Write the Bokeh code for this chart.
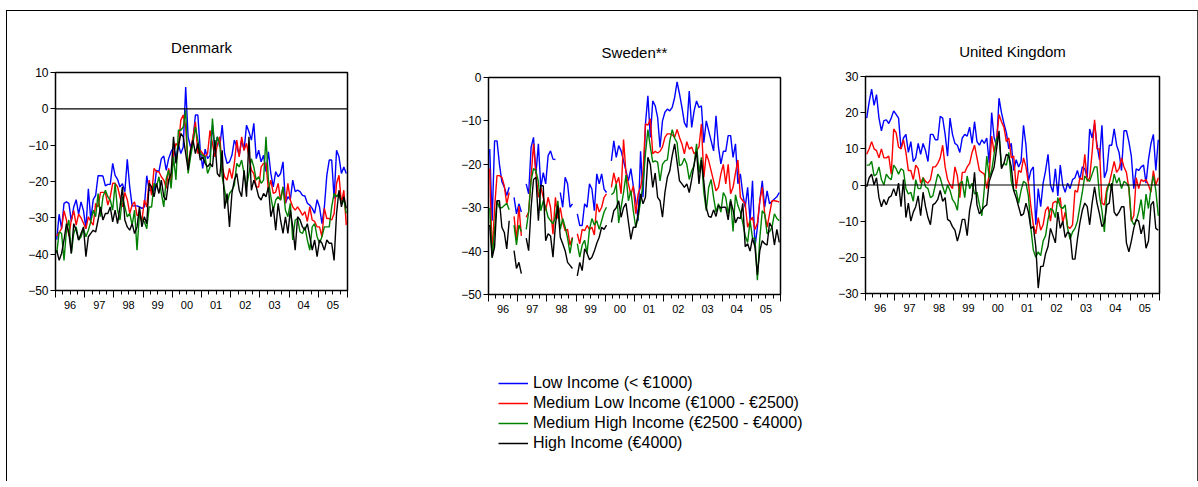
import numpy as np
from bokeh.plotting import figure
from bokeh.models import (Range1d, LinearAxis, FixedTicker, Span, Legend, LegendItem,
                          CustomLabelingPolicy, Spacer)
from bokeh.layouts import row, column
from bokeh.embed import file_html
from bokeh.resources import INLINE

# ---------------- data ----------------
start_year = 1996
n_years = 10
year_labels = ["96", "97", "98", "99", "00", "01", "02", "03", "04", "05"]

series_names = ["Low Income (< €1000)",
                "Medium Low Income (€1000 - €2500)",
                "Medium High Income (€2500 - €4000)",
                "High Income (€4000)"]
series_colors = ["#0000FF", "#FF0000", "#008000", "#000000"]

panel_titles = ["Denmark", "Sweden**", "United Kingdom"]

dk_low = [
    -36, -29, -33, -26, -25.6, -26, -31, -27, -25, -29, -25.6, -28,
    -33, -22, -30.6, -25, -23.8, -18.4, -18.4, -18.5, -21.2, -20.8, -20.8, -15,
    -18.3, -19.4, -21.5, -20.6, -22.8, -13.9, -21.5, -26.7, -26.7, -26.7, -27, -27.4,
    -27, -18.4, -22.4, -22.6, -22.6, -16.9, -17.3, -13.7, -13, -16.9, -13.7, -11.8,
    -10.5, -13.7, -9.7, -12.3, -10.5, 6, -7.7, -10.5, -8.6, -1.7, -1.7, -11.4,
    -16.4, -11.1, -13.7, -12.8, -4.5, -11.4, -7.7, -10.5, -4.5, -12.3, -15, -14.6,
    -12.8, -8.6, -10.5, -12.8, -8.6, -11.4, -4.5, -6.3, -8.6, -4, -13.7, -11.4,
    -14.6, -12.8, -17.3, -11.8, -17.8, -21.5, -17.3, -18.7, -17.8, -14.6, -26, -24.2,
    -25, -19.6, -22.8, -22.4, -22.8, -23.8, -24, -26, -26.5, -27.4, -28.8, -25,
    -27, -31.6, -27, -18.3, -14.1, -14.1, -24.7, -11.4, -13.2, -17.8, -16, -17.8,
]
dk_mlow = [
    -35, -34, -33, -28, -30.6, -35, -30.6, -28, -32, -29, -30, -31.5,
    -33, -29.7, -31, -32, -26, -27, -23, -23, -23, -26.5, -24.2, -20.5,
    -20.5, -21.5, -24.2, -27, -23, -25, -28.8, -26.5, -25.6, -29.3, -29.3, -31,
    -25.1, -27, -19.6, -23.8, -16.4, -17.3, -17.3, -18.7, -19.6, -21.9, -16.4, -20.5,
    -12.3, -9.5, -10.5, -3.1, -1.7, -5, -16, -11.4, -7.7, -3.6, -12.3, -11.4,
    -12.3, -13.2, -12.3, -5.9, -9.5, -13.2, -10, -7.7, -16, -18.7, -19.6, -16.4,
    -19.2, -15, -8.6, -13.2, -7.7, -11.4, -9.5, -13.2, -16.9, -17.8, -21.5, -21.5,
    -16, -15, -15, -22.4, -19.6, -23.3, -22.9, -20.5, -25.1, -21.5, -26, -20.5,
    -25.1, -27, -27.9, -27, -28, -29.3, -28.3, -31, -27, -30.6, -31, -32.5,
    -32.5, -35.2, -27.4, -30.2, -30.2, -30.6, -28.8, -20.5, -18.3, -26, -22.4, -32,
]
dk_mhigh = [
    -39.8, -33.9, -34.3, -41.7, -33.4, -30.6, -39.8, -34.3, -32.5, -36.1, -35.2, -33,
    -35.2, -33.4, -31.1, -27.9, -29.7, -23.3, -29.7, -24.2, -22.4, -24.2, -25.1, -27.9,
    -20.5, -27.9, -30.6, -24.2, -27, -29.7, -28.8, -32, -27.9, -38.9, -28.8, -30.6,
    -31.1, -33, -27, -27, -20.5, -21.5, -18.7, -23.3, -27, -19.2, -16.9, -21.9,
    -13.2, -19.6, -5.9, -5.9, -5, -0.4, -17.8, -13.2, -9.5, -5, -8.6, -12.3,
    -12.8, -13.2, -17.8, -16, -2.7, -11.4, -7.7, -9.5, -18.7, -22.4, -26, -23.3,
    -22.4, -21, -15, -16, -14.1, -17.8, -21.5, -17.8, -13.7, -16, -19.6, -18.7,
    -20.5, -19.6, -7.7, -19.6, -24.2, -27.9, -25.1, -24.2, -25.1, -21.5, -27.9, -29.7,
    -26, -36.1, -30.6, -30.2, -33.9, -34.3, -32.5, -36.1, -38.9, -32.5, -31.6, -35.2,
    -37, -35.2, -32.5, -32.5, -32.5, -27, -23.3, -24.2, -23.3, -26, -25.1, -28.8,
]
dk_high = [
    -38.9, -41.7, -39.8, -36.1, -31.6, -34.3, -39.8, -31.6, -33.4, -36.1, -34.3, -32.5,
    -40.7, -35.2, -34.3, -33.4, -33.9, -30.6, -27, -30.6, -28.8, -28.8, -27, -31.1,
    -27.9, -31.6, -27, -21.5, -30.6, -32.5, -33.4, -31.6, -34.3, -32.5, -27, -32.5,
    -29.7, -31.6, -20.5, -21.5, -24.2, -20.5, -23.3, -19.6, -24.2, -25.1, -19.6, -17.8,
    -7.7, -15, -10.5, -6.8, -7.7, -12.3, -16.9, -11.4, -8.6, -12.3, -9.5, -14.1,
    -13.2, -15, -16, -15, -16, -8.6, -17.8, -18.7, -11.4, -27.5, -23.3, -32.5,
    -23.3, -19.6, -17.8, -22.4, -24.2, -16.9, -24.2, -7.7, -22.4, -19.6, -21.5, -24.2,
    -25.1, -23.3, -24.2, -21.5, -29.7, -27, -33.4, -26, -30.6, -34.3, -29.7, -34.3,
    -27.9, -32.5, -38.9, -29.7, -30.6, -32.5, -33.4, -31.6, -35.2, -38.9, -36.1, -40.7,
    -36.1, -37, -38.9, -36.1, -37, -37, -41.7, -28.8, -22.4, -27, -24.2, -27.4,
]

se_low = [
    -16.5, -33, -14.6, -14.6, -20, -24, -25.3, -27.2, -25.3, None, -27.6, -31.4,
    -29.1, -31, None, -24.5, -26.8, -16.1, -13.8, -22.2, -15.3, -25.3, -21.9, -24.5,
    -18, -16.9, -18.8, -18.9, None, -26.5, -29.9, -23, -24.5, -29.9, -29.1, None,
    -31.4, -34.1, -34.1, -29.1, -29.9, -24.5, -25.7, -30.7, -22.2, -24.5, -22.2, -25.7,
    -26.5, None, -19.2, -14.6, -18.4, -15.7, -16.9, -19.2, -21.5, -23.8, -21, -25,
    -28.4, -33, -17, -27.6, -10.7, -4.2, -13.8, -5.4, -6.5, -9.2, -16.1, -10,
    -8, -7.3, -7.7, -6.9, -4.6, -1, -3.8, -6.9, -10.4, -11.5, -3.1, -11.5,
    -7.7, -5.4, -6.9, -6.5, -15, -10, -12.3, -14.6, -16.9, -8.8, -16, -19.9,
    -17, -17, -13.4, -13.4, -18.4, -15.3, -24.5, -22.2, -26.8, -29.9, -25.3, -33,
    -23.8, -39.1, -34.5, -28.4, -23.8, -29.9, -26.1, -29.1, -28.5, -28, -27.5, -26.5,
]
se_mlow = [
    -21, -41, -30, -22.6, -22.6, -23, -25, -29.1, -26.5, None, -32, -37.5,
    -29.6, -36.5, None, -32.2, -31, -23, -15.3, -22, -27.6, -25.3, -27.6, -30.7,
    -27.6, -29.9, -36.1, -27.6, -32.5, -30, -33.3, -35.3, -35, -38.6, -36.8, None,
    -36, -38.3, -35, -35.3, -34.1, -35, -34.5, -36.3, -29.1, -31, -29.9, -27.6,
    -26.8, None, -25.3, -22, -24.5, -23, -26.8, -14.3, -22, -24.5, -27, -25,
    -31.4, -26.8, -25.3, -22, -10.7, -11, -9.5, -17.6, -17, -17.4, -17, -16,
    -13.8, -13, -13, -13.2, -13.8, -12, -13.8, -15.3, -17.6, -14.8, -16.5, -16,
    -17.6, -16.9, -16, -10.7, -23, -17.6, -19.2, -21.5, -23.8, -26.1, -25.3, -22.2,
    -20, -24.5, -20, -26.8, -25.3, -22, -19, -27.6, -28.4, -29.1, -34.5, -33,
    -32.2, -35, -33.6, -28.4, -25.3, -31.4, -34.5, -31.4, -28.4, -28.4, -28.5, -28.7,
]
se_mhigh = [
    -30, -41.5, -35, -28.4, -30, -30, -29.5, -29, -30.5, None, -34, -38.6,
    -34, -35.5, None, -35, -31, -23.8, -21, -21.5, -24, -30.7, -28.4, -30,
    -32.2, -33, -33.7, -32.2, -28.4, -35, -32.5, -34.5, -37, -40.5, -37, None,
    -38.3, -41.4, -38.6, -37.5, -40.5, -35, -32.5, -34, -33, -35, -33, -31,
    -29.9, None, -27, -26.5, -24.5, -33.5, -29.9, -26.5, -22.5, -28.4, -26.1, -30.7,
    -34.5, -32.2, -28.4, -24.5, -17.6, -12, -16, -19.5, -19.2, -19.5, -23.8, -20,
    -19.2, -19, -14.6, -12, -14, -15, -20.3, -20, -18.6, -20, -23.5, -21.5,
    -20.3, -15.3, -22, -18.4, -26.5, -30.7, -25.3, -23.5, -27.6, -31, -29.1, -31,
    -26.5, -27.6, -31.4, -28, -35.5, -27, -29.5, -31, -33.5, -36.5, -38, -33,
    -37, -37, -46.7, -37, -30.7, -31.5, -36, -35.5, -34.5, -31.4, -32.5, -33,
]
se_high = [
    -34, -41.5, -39, -28.4, -28.4, -34.5, -35.7, -39.5, -33, None, -39.9, -44,
    -42.6, -45.2, None, -37, -39.9, -30, -23.5, -23, -33, -24.8, -25, -37.6,
    -36, -36.5, -41.4, -34, -29.5, -36.8, -38.3, -39.9, -42.6, -43.3, -44, None,
    -45.7, -42.6, -44.5, -39.5, -40.5, -42, -41.4, -40, -38.2, -36.8, -34.5, -35,
    -34, None, -33.4, -30.7, -30, -28.4, -32.2, -30, -29, -33.3, -37.3, -34.5,
    -34.5, -31.4, -26.8, -29.1, -27.6, -18.4, -20, -25.3, -22, -27.6, -28.4, -32.2,
    -26.5, -23, -21.5, -18, -15.3, -19.5, -23.8, -24.5, -25.3, -24.5, -26.5, -23.5,
    -20, -17, -24.5, -19, -24, -30, -32, -32.2, -30.5, -32, -29.5, -30,
    -29.9, -29.9, -32.8, -28.4, -30.5, -33.5, -32.2, -32.5, -29, -39, -38.3, -40,
    -37, -39, -45.5, -39.9, -37.6, -38.3, -38.6, -33.5, -34.5, -38.6, -35, -38,
]

uk_low = [
    18.5, 23, 26.5, 22, 25, 18.5, 15, 17.8, 18, 17, 18.5, 20.5,
    19.5, 18.5, 10, 13, 14, 9, 12, 6.5, 7.5, 11.5, 8.5, 11.5,
    9.5, 6.5, 14, 14, 12.5, 12.5, 19, 18.5, 14, 8, 18.5, 14,
    11.5, 11, 9, 13, 14, 13.5, 16, 11.5, 17.5, 12, 11, 12.5,
    11.5, 13, 6, 20, 13, 11, 24, 20, 17, 14.5, 10, 11.5,
    4, 7, 5, 6.5, 16.5, 11, 1, 4, 5, -11, -1, -6,
    0.5, 4, 8.5, 0, -2, 4.5, -3, 5.5, 0, -2, 0.5, -1,
    1.5, 2, 4, 1.5, 5, 4.5, 2, 15.5, 13, 17, 11, 7,
    16.5, 2, 4, 11, 11, 15.5, 11, 9, 4, 15, 15, 12,
    8, -1, 4.5, 4, 5, 5.5, 0.5, 7, 11.4, 14, 4, 12.5,
]
uk_mlow = [
    8.5, 10, 12, 10, 9.5, 7.5, 10, 7.5, 7.5, 8, 3, 15.5,
    14.5, 10.5, 10, 12.5, 9, 4, 4, 1.5, 5.5, 4.5, 0.5, 2,
    1, 0.5, 1.5, 5, 5, 6, 7.5, 11, 5, 1.5, 0, -1,
    5, 2.5, -3.5, 3.5, 3.5, 5, 6, 9, 11, 7.5, 4, 3.5,
    3, -1, 3, 13.5, 9, 12.5, 19.5, 17.5, 16, 12, 13, 7.5,
    8, -1, 4, 3.5, 7.5, 5, 0.5, -6, -11, -13.5, -9, -12.5,
    -11, -7, -6, -10, -5, -4.5, -5, -3.5, -10.5, -7.5, -11.5, -12,
    -11, -1.5, -2, 2, 1.5, 8.5, 1, 2, 9, 18, 10, 10,
    -5, -5.5, -1, 0.5, 3.5, 6.5, 3.5, 4.5, 7.5, 5, 3.5, -1,
    -10, -8.5, 2, -1, 1.5, 1, 1.5, 0, -2, 4, 0, 2,
]
uk_mhigh = [
    5.5, 5.5, 6.5, 2.5, 3, 5, 1.5, 0, 3, 2, 1.5, 5.5,
    4.5, 3, 4.5, 4, -1, -2.5, -2, -4.5, 1.5, -1, -1, 2,
    -0.5, -1, -3.5, -3, 0, 3, 2, -0.5, -2.5, 0, -1.5, -4,
    -5, -7, 0.5, 1, -3.5, 2.5, -1, 0.5, -2.5, -2, -5.5, -8.5,
    -1, 8, 2, 4, 8.5, 13, 13.5, 5, 6, 5.5, 9, 1,
    -1.5, -1.5, -5, -1.5, 1, 0.5, -3, -12, -18, -20, -18.5, -19.5,
    -15.5, -14, -9.5, -6.5, -7, -9, -3.5, -6, -6.5, -5.5, -12, -15,
    -13, -12, -10, -6, -2, 2.5, 1.5, 1, 3, 5, 5, -3,
    -7, -13, -2, 0.5, -1, 3, 0.5, 2, -1, 1, 0.5, -0.5,
    -9.5, -11, -10, -7.5, -4, -9.5, -2.5, -6.5, -1, 2.5, -1.5, -8.5,
]
uk_high = [
    -0.5, 2, 3, 0, 2, -3.5, -6, -4, -5.5, -3.5, -3, -1,
    -3, 0.5, -6, 1.5, -9, -5, -10, -7.5, -6, -3, -8.5, -2,
    -6, -9, -11, -5.5, -5, -4, -1.5, -4.5, -3.5, -9.5, -10, -11.5,
    -12.5, -15.5, -13, -9.5, -9.5, -14, -7, -3.5, 3.5, -5.5, -8, -7,
    -6, -5.5, 1, 3, 5, 10, 15, 4.5, 6, 8.5, 8, 5,
    -1.5, -3.5, -6, -8.5, -8, -5, -7.5, -12, -11.5, -17, -28.5, -22.5,
    -22.5, -19, -17, -12, -14, -16, -7.5, -12, -10, -14.5, -13, -13.5,
    -20.5, -20.5, -15, -10.5, -7, -5, -6, -11, -5, -0.5, -5, -8,
    -11.5, -10.5, -5.5, -5, 0.5, -7.5, -8.5, -7.5, -6, -6, -16, -18.5,
    -15.5, -12, -9.5, -10, -13.5, -11, -17.5, -15.5, -5.5, -4.5, -12, -12.5,
]

# ---------------- styling / layout ----------------
FONT = "Liberation Sans"
LINE_W = 1.4
month_x = start_year + (np.arange(n_years * 12) + 0.5) / 12.0
year_edges = [start_year + k for k in range(n_years + 1)]
quarters = [start_year + k / 4.0 for k in range(n_years * 4 + 1)]
mid_years = [start_year + k + 0.5 for k in range(n_years)]


def make_panel(title, data, ylo, yhi, zero_line, frame_w, frame_h,
               b_left, b_right, b_top, total_h):
    p = figure(frame_width=frame_w, frame_height=frame_h,
               x_range=Range1d(year_edges[0], year_edges[-1]),
               y_range=Range1d(ylo, yhi),
               x_axis_type=None, y_axis_type=None,
               toolbar_location=None, output_backend="svg",
               min_border_left=b_left, min_border_right=b_right,
               min_border_top=b_top, min_border_bottom=total_h - b_top - frame_h)
    p.background_fill_color = "white"
    p.border_fill_color = "white"
    p.outline_line_color = "black"
    p.outline_line_width = 1.5

    p.title.text = title
    p.title.align = "center"
    p.title.text_font = FONT
    p.title.text_font_size = "15px"
    p.title.text_font_style = "normal"
    p.title.text_color = "black"
    p.title.standoff = 34

    yax = LinearAxis(ticker=FixedTicker(ticks=list(range(ylo, yhi + 1, 10)), minor_ticks=[]))
    yax.major_tick_out = 5
    yax.major_tick_in = 0
    yax.minor_tick_out = 0
    yax.minor_tick_in = 0
    yax.major_label_standoff = 2
    yax.major_label_text_font = FONT
    yax.major_label_text_font_size = "12px"
    yax.major_label_text_color = "black"
    yax.axis_line_color = "black"
    yax.major_tick_line_color = "black"
    p.add_layout(yax, "left")

    # year-boundary ticks (long) and quarter ticks (short), no labels
    xt = LinearAxis(ticker=FixedTicker(ticks=year_edges, minor_ticks=quarters))
    xt.major_tick_out = 7
    xt.major_tick_in = 0
    xt.minor_tick_out = 4
    xt.minor_tick_in = 0
    xt.major_tick_line_color = "black"
    xt.minor_tick_line_color = "black"
    xt.axis_line_color = "black"
    xt.major_label_text_font_size = "0px"
    xt.major_label_standoff = 0
    xt.major_label_policy = CustomLabelingPolicy(code="return []")
    p.add_layout(xt, "below")

    # year labels centred in each year
    xl = LinearAxis(ticker=FixedTicker(ticks=mid_years, minor_ticks=[]))
    xl.major_label_overrides = {m: lbl for m, lbl in zip(mid_years, year_labels)}
    xl.major_tick_out = 0
    xl.major_tick_in = 0
    xl.minor_tick_out = 0
    xl.minor_tick_in = 0
    xl.axis_line_color = None
    xl.major_tick_line_color = None
    xl.major_label_standoff = 3
    xl.major_label_text_font = FONT
    xl.major_label_text_font_size = "11px"
    xl.major_label_text_color = "black"
    p.add_layout(xl, "below")

    if zero_line:
        p.add_layout(Span(location=0, dimension="width", line_color="black", line_width=1.2))

    for vals, col in zip(data, series_colors):
        p.line(month_x, np.array(vals, dtype=float), line_color=col, line_width=LINE_W)
    return p


ROW_H = 330
TOP = 61
p_dk = make_panel(panel_titles[0], [dk_low, dk_mlow, dk_mhigh, dk_high], -50, 10, True,
                  292, 218, 48, 40, TOP, ROW_H)
p_se = make_panel(panel_titles[1], [se_low, se_mlow, se_mhigh, se_high], -50, 0, False,
                  292, 217, 101, 40, TOP, ROW_H - 5)
p_uk = make_panel(panel_titles[2], [uk_low, uk_mlow, uk_mhigh, uk_high], -30, 30, True,
                  294, 217, 45, 38, TOP, ROW_H - 4)

col_se = column(Spacer(width=433, height=5), p_se)
col_uk = column(Spacer(width=377, height=4), p_uk)

# legend panel
lg = figure(width=1190, height=140, toolbar_location=None, output_backend="svg",
            x_axis_type=None, y_axis_type=None, min_border=0,
            x_range=Range1d(0, 1), y_range=Range1d(0, 1))
lg.outline_line_color = None
lg.background_fill_color = "white"
lg.border_fill_color = "white"
items = []
for name, col in zip(series_names, series_colors):
    r = lg.line(x=[np.nan, np.nan], y=[np.nan, np.nan], line_color=col, line_width=1.5)
    items.append(LegendItem(label=name, renderers=[r]))
legend = Legend(items=items, location=(491, 28), orientation="vertical")
legend.padding = 0
legend.margin = 0
legend.spacing = 0
legend.glyph_width = 30
legend.glyph_height = 20
legend.label_height = 20
legend.label_standoff = 5
legend.border_line_color = None
legend.background_fill_alpha = 0
legend.label_text_font = FONT
legend.label_text_font_size = "16px"
legend.label_text_color = "black"
lg.add_layout(legend)

layout = column(row(p_dk, col_se, col_uk), lg,
                margin=(10, 0, 0, 6),
                styles={"border-left": "1px solid black",
                        "border-top": "1px solid black",
                        "border-right": "1px solid #444"})

open("out.html", "w").write(file_html(layout, INLINE))
